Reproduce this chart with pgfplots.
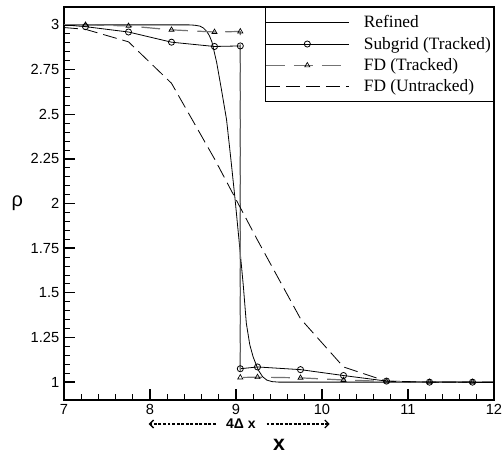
\documentclass[border=0pt]{standalone}
\usepackage{pgfplots}
\pgfplotsset{compat=1.18}
\usepackage{fontspec}
\setmainfont{Liberation Sans}
\newfontfamily\serif{Liberation Serif}
\usetikzlibrary{arrows.meta}

\begin{document}
\begin{tikzpicture}
\begin{axis}[
    scale only axis,
    width=322.5pt, height=294.75pt,
    xmin=7, xmax=12, ymin=0.9, ymax=3.1,
    xtick={7,8,9,10,11,12},
    ytick={1,1.25,1.5,1.75,2,2.25,2.5,2.75,3},
    minor x tick num=4, minor y tick num=4,
    tick pos=left,
    major tick length=8pt, minor tick length=4.5pt,
    major tick style={black, line width=1pt},
    minor tick style={black, line width=0.6pt},
    axis line style={line width=1.5pt},
    tick label style={font=\fontsize{11}{13}\selectfont},
    /pgf/number format/assume math mode=true,
    every axis y label/.style={at={(rel axis cs:0,0.5)}, anchor=center, xshift=-35pt},
    every axis x label/.style={at={(rel axis cs:0.5,0)}, anchor=center, yshift=-33.5pt},
    ylabel={\fontsize{15}{17}\selectfont ρ},
    xlabel={\fontsize{16}{18}\selectfont\bfseries x},
    clip=false,
    legend style={at={(rel axis cs:1,1)}, anchor=north east, draw=black,
        line width=0.7pt, fill=white,
        font=\serif\fontsize{13}{15}\selectfont,
        inner xsep=0pt, inner ysep=4pt, row sep=1.5pt,
        /tikz/every odd column/.append style={column sep=9pt}},
    legend cell align=left,
    legend image code/.code={\draw[mark repeat=2,mark phase=2,#1] plot coordinates {(0pt,0pt) (31pt,0pt) (62pt,0pt)};},
]
% Refined
\addplot[black, line width=0.6pt] coordinates {
 (7,3.0) (8.45,3.0) (8.52,2.998) (8.58,2.993) (8.62,2.983) (8.66,2.963) (8.69,2.94) (8.72,2.905)
 (8.775,2.79) (8.83,2.64) (8.89,2.47) (8.94,2.25) (8.99,2.02) (9.05,1.72)
 (9.085,1.54) (9.12,1.33) (9.16,1.21) (9.2,1.14) (9.26,1.067) (9.31,1.03)
 (9.36,1.011) (9.42,1.003) (9.5,1.0) (12,1.0)
};
\addlegendentry{Refined}
% Subgrid (Tracked)
\addplot[black, line width=0.6pt, mark=o, mark size=2.3pt, mark options={solid, fill=white}] coordinates {
 (7.25,2.99) (7.75,2.96) (8.25,2.903) (8.75,2.879) (9.05,2.882) (9.05,1.075)
 (9.25,1.085) (9.75,1.07) (10.25,1.037) (10.75,1.006) (11.25,1.0) (11.75,1.0)
};
\addlegendentry{Subgrid (Tracked)}
% FD (Tracked)
\addplot[black!55, line width=0.9pt, dash pattern=on 14pt off 7pt, mark=triangle, mark size=2.2pt,
    mark options={solid, black, line width=0.5pt, fill=white}] coordinates {
 (7.25,3.0) (7.75,2.994) (8.25,2.972) (8.75,2.96) (9.05,2.963) (9.05,1.026)
 (9.25,1.028) (9.75,1.024) (10.25,1.012) (10.75,1.004) (11.25,1.0) (11.75,1.0)
};
\addlegendentry{FD (Tracked)}
% FD (Untracked)
\addplot[black, line width=0.6pt, dash pattern=on 10.5pt off 4.5pt] coordinates {
 (7,2.985) (7.25,2.975) (7.75,2.905) (8.25,2.673) (8.75,2.25) (9.25,1.795)
 (9.75,1.355) (10.25,1.085) (10.75,1.005) (11.25,1.0) (12,1.0)
};
\addlegendentry{FD (Untracked)}
% line ends without marks
\addplot[black, line width=0.6pt, forget plot] coordinates {(7,3.0) (7.25,2.99)};
\addplot[black, line width=0.6pt, forget plot] coordinates {(11.75,1.0) (12,1.0)};
\addplot[black!55, line width=0.9pt, forget plot] coordinates {(7,3.0) (7.25,3.0)};

% 4 Delta x annotation
\draw[line width=1pt, dash pattern=on 2.2pt off 1.2pt, -{Straight Barb[length=3pt,width=6pt]}]
  ([yshift=-18pt]rel axis cs:0.353,0) -- ([yshift=-18pt]rel axis cs:0.197,0);
\draw[line width=1pt, dash pattern=on 2.2pt off 1.2pt, -{Straight Barb[length=3pt,width=6pt]}]
  ([yshift=-18pt]rel axis cs:0.471,0) -- ([yshift=-18pt]rel axis cs:0.618,0);
\node[font=\fontsize{10.5}{12}\selectfont\bfseries] at ([yshift=-18pt]rel axis cs:0.4115,0) {4Δ x};
\end{axis}
\pgfresetboundingbox
\path ([shift={(-48pt,-39.75pt)}]current axis.south west) rectangle ([shift={(6pt,5.25pt)}]current axis.north east);
\end{tikzpicture}
\end{document}
